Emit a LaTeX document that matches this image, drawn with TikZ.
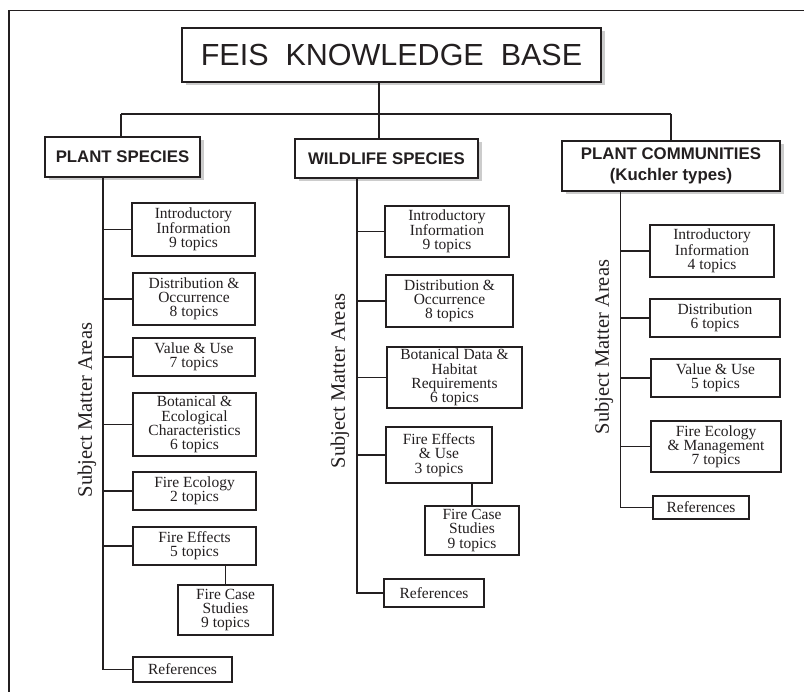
\documentclass[tikz,border=0pt]{standalone}
\usepackage{fontspec}
\setmainfont{Liberation Serif}
\newfontfamily\hv{Liberation Sans}
\usetikzlibrary{shadows}
\definecolor{ink}{HTML}{231F20}
\begin{document}
\begin{tikzpicture}[x=1pt,y=-1pt,
  subbox/.style={draw=ink, line width=1.7pt, fill=white, inner sep=0pt, align=center, text=ink,
    font=\fontsize{15.5}{14.2}\selectfont},
  mainbox/.style={draw=ink, line width=1.7pt, fill=white, inner sep=0pt, align=center, text=ink,
    general shadow={fill=gray!40, shadow xshift=4pt, shadow yshift=-3.5pt},
    font=\hv\bfseries\fontsize{16.8}{21}\selectfont},
  conn/.style={draw=ink, line width=1.8pt},
  sma/.style={rotate=90, inner sep=0pt, text=ink, font=\fontsize{20.5}{22}\selectfont}]
\useasboundingbox (0,0) rectangle (804,692);
\fill[white] (0,0) rectangle (804,692);
% frame
\draw[ink, line width=1.3pt] (804,10.5) -- (9,10.5) -- (9,692);

% top level
\node[mainbox, minimum width=419pt, minimum height=54pt,
  font=\hv\fontsize{30.5}{32}\selectfont] (feis) at (391.5,55) {FEIS\ \ KNOWLEDGE\ \ BASE};
\node[mainbox, minimum width=155pt, minimum height=40pt] (ps) at (122.5,157) {PLANT SPECIES};
\node[mainbox, minimum width=183pt, minimum height=39pt] (ws) at (386.5,158.5) {WILDLIFE SPECIES};
\node[mainbox, minimum width=218pt, minimum height=50pt] (pc) at (671,166) {PLANT COMMUNITIES\\(Kuchler types)};

\coordinate (hub) at (379,114);
\coordinate (jA) at (121,114);
\coordinate (jC) at (671,114);
\draw[conn] (feis.south -| hub) -- (hub);
\draw[conn] (jA) -- (jC);
\draw[conn] (jA) -- (jA |- ps.north);
\draw[conn] (hub) -- (hub |- ws.north);
\draw[conn] (jC) -- (jC |- pc.north);

% ---------- plant species ----------
\node[subbox, minimum width=123pt, minimum height=53pt] (i1) at (193.5,229.5) {Introductory\\Information\\9 topics};
\node[subbox, minimum width=122pt, minimum height=52pt] (d1) at (194,299) {Distribution \&\\Occurrence\\8 topics};
\node[subbox, minimum width=122pt, minimum height=38pt] (v1) at (194,357) {Value \& Use\\7 topics};
\node[subbox, minimum width=123pt, minimum height=63pt] (b1) at (194.5,424.5) {Botanical \&\\Ecological\\Characteristics\\6 topics};
\node[subbox, minimum width=123pt, minimum height=38pt] (fe1) at (194.5,491) {Fire Ecology\\2 topics};
\node[subbox, minimum width=123pt, minimum height=38pt] (ff1) at (194.5,546) {Fire Effects\\5 topics};
\node[subbox, minimum width=95pt, minimum height=50pt] (c1) at (225.5,610) {Fire Case\\Studies\\9 topics};
\node[subbox, minimum width=99pt, minimum height=25pt] (r1) at (182.5,669.5) {References};
\node[sma] (s1) at (87,410) {Subject Matter Areas};

\coordinate (sA) at (103,177);
\draw[conn] (ps.south -| sA) |- (r1.west);
\foreach \n in {i1,d1,v1,b1,fe1,ff1}{\draw[conn] (sA |- \n.west) -- (\n.west);}
\draw[conn] (c1.north) -- (c1.north |- ff1.south);

% ---------- wildlife species ----------
\node[subbox, minimum width=124pt, minimum height=51pt] (i2) at (447,231.5) {Introductory\\Information\\9 topics};
\node[subbox, minimum width=127pt, minimum height=52pt] (d2) at (449.5,301) {Distribution \&\\Occurrence\\8 topics};
\node[subbox, minimum width=135pt, minimum height=61pt] (b2) at (454.5,377.5) {Botanical Data \&\\Habitat\\Requirements\\6 topics};
\node[subbox, minimum width=106pt, minimum height=56pt] (ff2) at (439,455) {Fire Effects\\\& Use\\3 topics};
\node[subbox, minimum width=94pt, minimum height=49pt] (c2) at (472,530.5) {Fire Case\\Studies\\9 topics};
\node[subbox, minimum width=100pt, minimum height=28pt] (r2) at (434,593) {References};
\node[sma] (s2) at (340,381) {Subject Matter Areas};

\coordinate (sB) at (357,178);
\draw[conn] (ws.south -| sB) |- (r2.west);
\foreach \n in {i2,d2,b2,ff2}{\draw[conn] (sB |- \n.west) -- (\n.west);}
\draw[conn] (c2.north) -- (c2.north |- ff2.south);

% ---------- plant communities ----------
\node[subbox, minimum width=124pt, minimum height=52pt] (i3) at (712,251) {Introductory\\Information\\4 topics};
\node[subbox, minimum width=130pt, minimum height=38pt] (d3) at (715,318) {Distribution\\6 topics};
\node[subbox, minimum width=129pt, minimum height=38pt] (v3) at (715.5,378) {Value \& Use\\5 topics};
\node[subbox, minimum width=130pt, minimum height=51pt] (fe3) at (716,446.5) {Fire Ecology\\\& Management\\7 topics};
\node[subbox, minimum width=96pt, minimum height=23pt] (r3) at (701,507.5) {References};
\node[sma] (s3) at (604,347) {Subject Matter Areas};

\coordinate (sC) at (620.5,191);
\draw[conn] (pc.south -| sC) |- (r3.west);
\foreach \n in {i3,d3,v3,fe3}{\draw[conn] (sC |- \n.west) -- (\n.west);}
\end{tikzpicture}
\end{document}
